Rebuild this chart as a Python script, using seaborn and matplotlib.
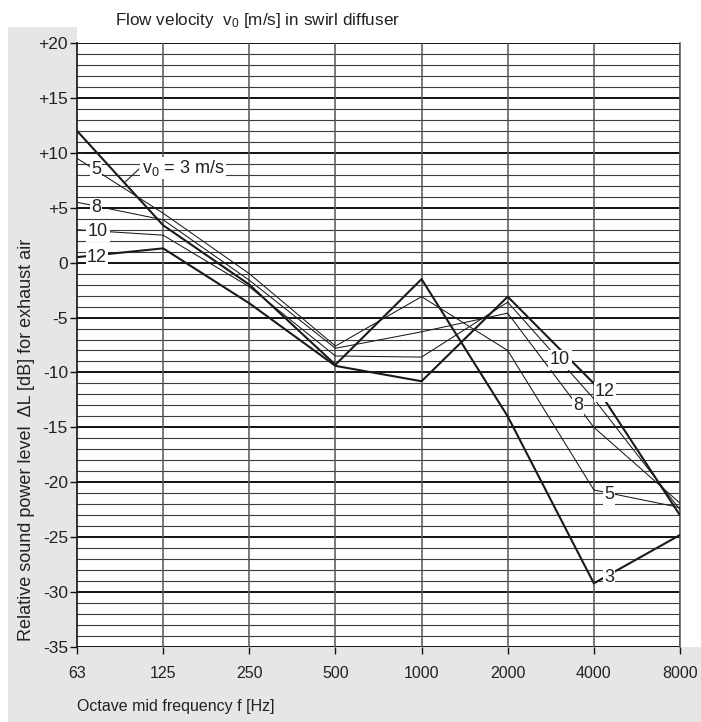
import numpy as np
import pandas as pd
import matplotlib
matplotlib.use("Agg")
import matplotlib.pyplot as plt
from matplotlib.patches import Rectangle
import seaborn as sns

# ---- data ----
freqs = [63, 125, 250, 500, 1000, 2000, 4000, 8000]
freq_labels = ["63", "125", "250", "500", "1000", "2000", "4000", "8000"]
v3 = [12.0, 3.4, -2.0, -9.3, -1.5, -14.0, -29.2, -24.8]
v5 = [9.5, 4.5, -1.0, -7.6, -3.1, -8.0, -20.7, -22.3]
v8 = [5.5, 3.9, -1.6, -7.8, -6.3, -4.6, -15.0, -21.9]
v10 = [3.0, 2.5, -2.2, -8.5, -8.6, -3.6, -12.4, -22.5]
v12 = [0.5, 1.3, -3.7, -9.4, -10.8, -3.1, -11.0, -23.0]
y_ticks = [20, 15, 10, 5, 0, -5, -10, -15, -20, -25, -30, -35]
y_tick_labels = ["+20", "+15", "+10", "+5", "0", "-5", "-10", "-15", "-20", "-25", "-30", "-35"]

series = {"3": v3, "5": v5, "8": v8, "10": v10, "12": v12}
rows = []
for name, vals in series.items():
    for i, (f, v) in enumerate(zip(freqs, vals)):
        rows.append({"pos": i, "freq": f, "dL": v, "v0": name})
df = pd.DataFrame(rows)

sns.set_theme(style="white")
plt.rcParams["font.family"] = ["Liberation Sans", "DejaVu Sans"]
plt.rcParams["mathtext.fontset"] = "custom"
plt.rcParams["mathtext.rm"] = "Liberation Sans"

W, H = 701, 722
fig = plt.figure(figsize=(W / 100, H / 100), dpi=100)
fig.patch.set_facecolor("white")

gray = "#e6e6e7"
def px_rect(x0, y0, x1, y1):
    fig.patches.append(Rectangle((x0 / W, 1 - y1 / H), (x1 - x0) / W, (y1 - y0) / H,
                                 transform=fig.transFigure, facecolor=gray,
                                 edgecolor="none", zorder=-5))
px_rect(8, 27, 77, 647)
px_rect(8, 647, W, H)

L, R, T, B = 77, 680, 43, 647
ax = fig.add_axes([L / W, 1 - B / H, (R - L) / W, (B - T) / H])
ax.set_facecolor("white")

# grid
for yv in range(-35, 21):
    major = (yv % 5 == 0)
    ax.axhline(yv, color="#111111" if major else "#3a3a3a",
               lw=1.4 if major else 0.8, zorder=1)
for i in range(1, len(freqs)):
    ax.axvline(i, color="#555555", lw=1.1, zorder=1)

thick = {"3": 1.5, "12": 1.5}
for name in series:
    sub = df[df["v0"] == name]
    sns.lineplot(data=sub, x="pos", y="dL", ax=ax, color="#1a1a1a",
                 lw=thick.get(name, 0.75), zorder=3, legend=False,
                 estimator=None, sort=False)

ax.set_xlim(0, len(freqs) - 1)
ax.set_ylim(-35, 20)
ax.set_xticks(range(len(freqs)))
ax.set_xticklabels(freq_labels)
ax.set_yticks(y_ticks)
ax.set_yticklabels(y_tick_labels)
ax.tick_params(axis="both", direction="out", length=5, width=1.0, color="#111111",
               labelcolor="#222222", left=True, bottom=True)
ax.tick_params(axis="x", pad=9, labelsize=11.5)
ax.tick_params(axis="y", pad=1.5, labelsize=12.5)
ax.set_xlabel("")
ax.set_ylabel("")
for s in ["top", "bottom"]:
    ax.spines[s].set_visible(False)
ax.spines["left"].set_color("#111111")
ax.spines["left"].set_linewidth(1.2)
ax.spines["right"].set_color("#555555")
ax.spines["right"].set_linewidth(1.1)

def px2d(x, y):
    return (x - L) / ((R - L) / 7), 20 - (y - T) / ((B - T) / 55)

lab_kw = dict(fontsize=13, color="#222222", ha="center", va="center", zorder=5,
              bbox=dict(facecolor="white", edgecolor="none", pad=1.0))
labels = [("5", 96, 170), ("8", 96, 208), ("10", 98, 232), ("12", 97, 257),
          ("10", 560, 360), ("12", 605, 392), ("8", 578, 406),
          ("5", 609, 495), ("3", 609, 578)]
for t, x, y in labels:
    ax.text(*px2d(x, y), t, **lab_kw)

# v0 = 3 m/s label with leader
ax.text(*px2d(183, 168), r"$\mathregular{v_0}$ = 3 m/s", **lab_kw)
x0, y0 = px2d(139, 169)
x1, y1 = px2d(124, 183)
ax.plot([x0, x1], [y0, y1], color="#222222", lw=0.8, zorder=6)

fig.text(115 / W, 1 - 21 / H, r"Flow velocity  $\mathregular{v_0}$ [m/s] in swirl diffuser",
         fontsize=12.3, color="#222222", ha="left", va="center")
fig.text(27 / W, 1 - 440 / H, "Relative sound power level  ΔL [dB] for exhaust air",
         fontsize=13, color="#222222", ha="center", va="center", rotation=90)
fig.text(77 / W, 1 - 707 / H, "Octave mid frequency f [Hz]",
         fontsize=11.5, color="#222222", ha="left", va="center")

fig.savefig("out.png", dpi=100)
